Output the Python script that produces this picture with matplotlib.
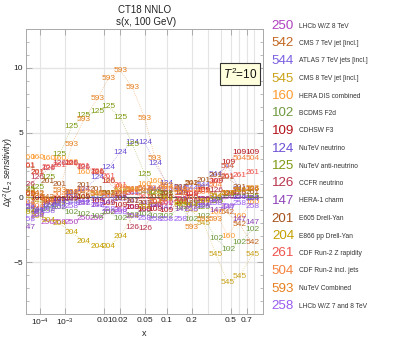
import numpy as np
import matplotlib
matplotlib.use("Agg")
import matplotlib.pyplot as plt
from matplotlib.ticker import FixedLocator, NullFormatter

plt.rcParams['font.family'] = ['Liberation Sans', 'DejaVu Sans']
plt.rcParams['mathtext.fontset'] = 'custom'
plt.rcParams['mathtext.rm'] = 'Liberation Sans'
plt.rcParams['mathtext.it'] = 'Liberation Sans:italic'

# ---------------- data ----------------
x_grid = [2e-5, 7e-5, 2.3e-4, 6.5e-4, 1.6e-3, 3.4e-3, 7e-3, 0.012, 0.02, 0.032,
          0.05, 0.07, 0.1, 0.15, 0.2, 0.27, 0.36, 0.47, 0.6, 0.78]

exp_ids = ['250', '542', '544', '545', '160', '102', '109', '124', '125', '126',
           '147', '201', '204', '261', '504', '593', '258']
exp_names = ['LHCb W/Z 8 TeV', 'CMS 7 TeV jet [incl.]', 'ATLAS 7 TeV jets [incl.]',
             'CMS 8 TeV jet [incl.]', 'HERA DIS combined', 'BCDMS F2d', 'CDHSW F3',
             'NuTeV neutrino', 'NuTeV anti-neutrino', 'CCFR neutrino', 'HERA-1 charm',
             'E605 Drell-Yan', 'E866 pp Drell-Yan', 'CDF Run-2 Z rapidity',
             'CDF Run-2 incl. jets', 'NuTeV Combined', 'LHCb W/Z 7 and 8 TeV']
exp_colors = ['#b040c0', '#c4661f', '#7a5fe0', '#c9a21a', '#ff9a2e', '#6f9a3e',
              '#b3121a', '#6c4fd4', '#7d9a12', '#b8334c', '#8e44b8', '#a5511b',
              '#c4a000', '#f0524c', '#f5823f', '#e6801f', '#9a5cf0']

y_250 = [-0.8, -1.3, -1.9, -1.9, -1.9, -1.6, -1.6, -1.2, -1.0, -0.8, -1.0, -0.6, -0.4, -0.2, 0.0, -0.2, -0.3, 0.0, 0.0, -0.1]
y_542 = [0.5, 0.3, 0.0, -0.2, 0.3, 0.4, 0.2, 0.3, 0.5, 0.6, 0.7, 0.5, 0.3, 0.6, 1.1, 0.8, 0.2, -1.2, -2.1, -3.5]
y_544 = [-0.5, -0.9, -0.8, -0.6, -0.4, -0.3, -0.2, 0.0, 0.1, 0.3, 0.4, 0.6, 0.5, 0.8, 0.7, 0.9, 1.8, 2.4, 0.6, -0.2]
y_545 = [0.0, -0.3, -0.5, -0.4, -0.2, 0.0, 0.2, 0.3, 0.4, 0.5, 0.4, 0.2, 0.0, -0.6, -1.0, -2.0, -4.4, -6.6, -6.1, -4.4]
y_160 = [3.1, 3.1, 3.0, 3.0, 2.7, 1.9, 1.9, 1.2, 0.8, 0.5, 1.0, 1.2, 0.6, 0.3, 0.0, -0.3, -1.2, -3.0, -1.5, -0.4]
y_102 = [-1.0, -1.2, -0.9, -0.8, -1.2, -1.3, -1.5, -1.2, -1.6, -1.4, -1.3, -1.5, -1.5, -0.8, -1.7, -1.5, -3.2, -4.0, -3.5, -2.5]
y_109 = [0.2, -0.1, -0.3, -0.2, -0.1, 0.0, -0.3, -0.5, -0.6, -0.8, -0.9, -0.9, -1.0, -0.4, 0.2, 0.5, 1.2, 2.7, 3.5, 3.5]
y_124 = [-0.8, -1.0, -0.6, -0.4, 0.3, 0.6, 1.5, 2.3, 3.5, 4.2, 4.2, 2.6, 1.1, 0.4, -0.6, -0.6, -0.2, 0.2, 0.0, -0.1]
y_125 = [0.6, 0.8, 1.5, 3.3, 5.5, 6.3, 6.6, 7.0, 6.2, 4.1, 1.8, 0.4, 0.2, -0.3, -0.5, -0.8, -0.3, 0.2, 0.3, 0.1]
y_126 = [1.0, 1.5, 2.2, 2.6, 2.6, 2.3, 1.9, 1.2, 0.2, -2.3, -2.4, -0.6, 0.0, 0.3, -0.3, -0.2, 0.5, 0.3, 0.4, 0.6]
y_147 = [-2.3, -1.0, -0.5, -0.3, -0.2, -0.5, -0.6, -0.4, -0.2, -0.3, -0.5, -0.6, -0.8, -0.9, -0.6, -0.5, -1.0, -0.8, -1.7, -1.9]
y_201 = [2.4, 1.9, 1.2, 1.0, 0.4, 0.9, 0.6, 0.3, -0.1, -0.3, -0.5, 0.0, 0.3, 0.8, 1.1, 1.3, 1.7, 1.5, 0.8, 0.4]
y_204 = [-1.2, -1.5, -1.8, -2.0, -2.7, -3.4, -3.8, -3.8, -3.0, -1.5, -0.8, -0.4, -0.2, -0.5, -0.6, -0.3, 0.1, 0.3, 0.5, 0.6]
y_261 = [2.5, 1.9, 2.3, 2.5, 2.6, 2.4, 2.0, 1.6, 0.9, 0.3, 0.0, -0.3, -0.5, -0.2, 0.3, 0.5, 1.2, 1.6, 1.7, 1.9]
y_504 = [-0.4, -0.7, -0.3, 0.2, 0.4, 0.5, 0.3, 0.1, 0.3, 0.6, 0.6, 0.7, 0.8, 0.6, 0.5, 0.4, 0.9, 2.4, 3.0, 3.0]
y_593 = [0.3, 0.2, -0.2, 0.5, 4.1, 6.0, 7.6, 9.2, 9.8, 8.5, 6.1, 3.0, 0.9, 0.3, -2.3, -1.7, -1.7, 0.3, 0.5, 0.7]
y_258 = [-1.7, -1.4, -1.1, -0.8, -0.7, -0.5, -0.6, -0.9, -1.2, -1.5, -1.6, -1.7, -1.7, -1.7, -0.9, -0.7, -0.5, -0.7, -0.5, -0.7]

series_y = [y_250, y_542, y_544, y_545, y_160, y_102, y_109, y_124, y_125, y_126,
            y_147, y_201, y_204, y_261, y_504, y_593, y_258]

x_ticks = [1e-4, 1e-3, 0.01, 0.02, 0.05, 0.1, 0.2, 0.5, 0.7]
x_ticklabels = [r'$10^{-4}$', r'$10^{-3}$', '0.01', '0.02', '0.05', '0.1', '0.2', '0.5', '0.7']
x_gridlines = [1e-4, 1e-3, 0.01, 0.02, 0.05, 0.1, 0.2, 0.3, 0.4, 0.5, 0.6, 0.7, 0.8]
y_ticks = [-5, 0, 5, 10]
y_ticklabels = ['\u22125', '0', '5', '10']

# ---------------- figure ----------------
W, H = 399, 339
fig = plt.figure(figsize=(W / 100, H / 100), dpi=100)
ax = fig.add_axes([26 / W, 1 - 314 / H, (263 - 26) / W, (314 - 29) / H])

ax.set_xscale('function', functions=(lambda v: np.power(np.clip(v, 1e-12, None), 0.2),
                                     lambda v: np.power(np.clip(v, 0, None), 5)))
ax.set_xlim(1.25e-5, 0.956)
ax.set_ylim(-9, 13)

for gx in x_gridlines:
    ax.axvline(gx, color='#e4e4e4', lw=0.8, zorder=0)
for gy in [10, 5, -5]:
    ax.axhline(gy, color='#e4e4e4', lw=1.0, zorder=0)
ax.axhline(0, color='#555555', lw=0.8, zorder=1)

for lab, col, ys in zip(exp_ids, exp_colors, series_y):
    ax.plot(x_grid, ys, ls=(0, (1, 1.5)), color=col, lw=0.6, alpha=0.5, zorder=2)
    for xv, yv in zip(x_grid, ys):
        ax.text(xv, yv, lab, color=col, fontsize=6.0, ha='center', va='center',
                clip_on=True, zorder=3)

ax.xaxis.set_major_locator(FixedLocator(x_ticks))
ax.set_xticklabels(x_ticklabels)
ax.xaxis.set_minor_locator(FixedLocator([]))
ax.yaxis.set_major_locator(FixedLocator(y_ticks))
ax.set_yticklabels(y_ticklabels)
ax.yaxis.set_minor_locator(FixedLocator(list(range(-9, 14))))
ax.yaxis.set_minor_formatter(NullFormatter())

ax.tick_params(axis='both', which='major', direction='in', length=4, width=0.6,
               color='#a0a0a0', labelsize=6.0, labelcolor='#222222', pad=2,
               top=True, right=True)
ax.tick_params(axis='both', which='minor', direction='in', length=2, width=0.5,
               color='#a0a0a0', top=True, right=True)
for sp in ax.spines.values():
    sp.set_color('#a8a8a8')
    sp.set_linewidth(0.7)

ax.set_xlabel('x', fontsize=6.5, color='#222222')
ax.xaxis.set_label_coords(0.5, -0.052)
fig.text(8.5 / W, 1 - 172 / H, r'$\Delta\chi^2$($L_2$ $\mathit{sensitivity}$)', fontsize=6.2,
         color='#222222', rotation=90, ha='center', va='center')

fig.text(145 / W, 1 - 10 / H, 'CT18 NNLO', ha='center', va='center', fontsize=7, color='#222222')
fig.text(146 / W, 1 - 22 / H, 's(x, 100 GeV)', ha='center', va='center', fontsize=7, color='#222222')

ax.text(0.902, 0.842, r'$T^2$=10', transform=ax.transAxes, ha='center', va='center',
        fontsize=8.5, color='#111111',
        bbox=dict(boxstyle='square,pad=0.25', fc='#ffffdd', ec='#333333', lw=0.8))

# legend
for i, (lab, name, col) in enumerate(zip(exp_ids, exp_names, exp_colors)):
    yy = 26 + i * 17.5
    fig.text(283 / W, 1 - yy / H, lab, color=col, fontsize=9.6, ha='center', va='center')
    fig.text(299 / W, 1 - yy / H, name, color='#333333', fontsize=4.8, ha='left', va='center')

fig.savefig('out.png', dpi=100)
